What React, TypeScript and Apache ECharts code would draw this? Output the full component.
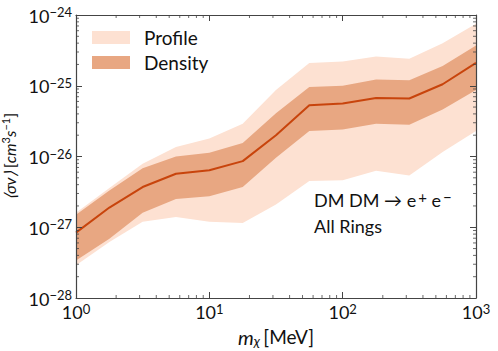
import React, { useEffect, useRef } from "react";
import * as echarts from "echarts";

// ---- data ----
const massMeV = [1, 1.78, 3.16, 5.62, 10, 17.8, 31.6, 56.2, 100, 178, 316, 562, 1000];
const median = [8.4e-28, 1.9e-27, 3.7e-27, 5.7e-27, 6.4e-27, 8.6e-27, 2.0e-26, 5.3e-26, 5.6e-26, 6.7e-26, 6.6e-26, 1.05e-25, 2.1e-25];
const densityHigh = [1.5e-27, 3.3e-27, 6.8e-27, 1.0e-26, 1.13e-26, 1.55e-26, 4.1e-26, 9.6e-26, 1.0e-25, 1.23e-25, 1.2e-25, 1.9e-25, 3.7e-25];
const densityLow = [3.4e-28, 6.9e-28, 1.6e-27, 2.5e-27, 2.75e-27, 3.7e-27, 9.6e-27, 2.3e-26, 2.4e-26, 2.9e-26, 2.8e-26, 4.6e-26, 8.7e-26];
const profileHigh = [1.6e-27, 3.6e-27, 7.9e-27, 1.36e-26, 1.8e-26, 2.9e-26, 8.7e-26, 2.1e-25, 2.2e-25, 2.6e-25, 2.4e-25, 4.0e-25, 7.5e-25];
const profileLow = [2.9e-28, 6.2e-28, 1.2e-27, 1.4e-27, 1.2e-27, 1.15e-27, 2.1e-27, 4.5e-27, 4.6e-27, 6.3e-27, 5.4e-27, 1.16e-26, 2.3e-26];

// axis range in decades (log10 of the plotted quantity)
const xMinExp = 0;
const xMaxExp = 3;
const yMinExp = -28;
const yMaxExp = -24;

const xMinorTicks = [2, 3, 4, 5, 6, 7, 8, 9, 20, 30, 40, 50, 60, 70, 80, 90, 200, 300, 400, 500, 600, 700, 800, 900];
const yMinorTicks = [
  2e-28, 3e-28, 4e-28, 5e-28, 6e-28, 7e-28, 8e-28, 9e-28,
  2e-27, 3e-27, 4e-27, 5e-27, 6e-27, 7e-27, 8e-27, 9e-27,
  2e-26, 3e-26, 4e-26, 5e-26, 6e-26, 7e-26, 8e-26, 9e-26,
  2e-25, 3e-25, 4e-25, 5e-25, 6e-25, 7e-25, 8e-25, 9e-25,
];

const seriesNames = ["Profile", "Density"];
const annotationLines = ["{n|DM DM \u2192 e}{s|+}{n| e}{s|\u2212}", "All Rings"];

const FONT = "Lato";
const TXT = "#111";
const AXIS_COLOR = "#444";
const PROFILE_COLOR = "#fde1d2";
const DENSITY_COLOR = "#e8a782";
const LINE_COLOR = "#c8440c";

const lg = (v: number) => Math.log10(v);

function expLabel(v: number) {
  const e = Math.round(v);
  const s = e < 0 ? "\u2212" + String(-e) : String(e);
  return `{b|10}{s|${s}}`;
}

const labelRich = {
  b: { fontFamily: FONT, fontSize: 18, color: TXT, lineHeight: 19, verticalAlign: "bottom" },
  s: { fontFamily: FONT, fontSize: 13, color: TXT, lineHeight: 12, verticalAlign: "top" },
};

function bandSeries(name: string, low: number[], high: number[], color: string, z: number) {
  return {
    name,
    type: "custom",
    coordinateSystem: "cartesian2d",
    xAxisIndex: 0,
    yAxisIndex: 0,
    z,
    silent: true,
    itemStyle: { color },
    data: massMeV.map((m, i) => [lg(m), lg(low[i]), lg(high[i])]),
    encode: { x: 0, y: [1, 2] },
    renderItem: (params: any, api: any) => {
      if (params.dataIndex !== 0) return null;
      const pts: number[][] = [];
      for (let i = 0; i < massMeV.length; i++) pts.push(api.coord([lg(massMeV[i]), lg(high[i])]));
      for (let i = massMeV.length - 1; i >= 0; i--) pts.push(api.coord([lg(massMeV[i]), lg(low[i])]));
      return { type: "polygon", shape: { points: pts }, style: { fill: color, stroke: "none" } };
    },
  };
}

export default function App() {
  const ref = useRef<HTMLDivElement>(null);
  useEffect(() => {
    if (!ref.current) return;
    const chart = echarts.init(ref.current, undefined, { renderer: "svg" });
    const axisCommon = {
      type: "value",
      z: 10,
      interval: 1,
      axisLine: { show: true, onZero: false, lineStyle: { color: AXIS_COLOR, width: 1.2 } },
      axisTick: { show: true, inside: true, length: 6, lineStyle: { color: AXIS_COLOR, width: 1 } },
      splitLine: { show: false },
    };
    const baseX = { ...axisCommon, min: xMinExp, max: xMaxExp };
    const baseY = { ...axisCommon, min: yMinExp, max: yMaxExp };
    const option = {
      animation: false,
      grid: { left: 76, right: 22, top: 15, bottom: 53, containLabel: false, outerBoundsMode: "none" },
      legend: {
        data: seriesNames,
        orient: "vertical",
        left: 92,
        top: 28,
        padding: 0,
        itemWidth: 38,
        itemHeight: 13,
        itemGap: 6,
        icon: "rect",
        selectedMode: false,
        textStyle: { fontFamily: FONT, fontSize: 19, color: TXT, padding: [0, 0, 0, 9] },
      },
      xAxis: [
        {
          ...baseX,
          position: "bottom",
          name: "{i|m}{sub|\u03C7} {n|[MeV]}",
          nameLocation: "middle",
          nameGap: 18,
          nameTextStyle: {
            rich: {
              i: { fontFamily: FONT, fontStyle: "italic", fontSize: 20, color: TXT, lineHeight: 20 },
              sub: { fontFamily: FONT, fontStyle: "italic", fontSize: 14, color: TXT, lineHeight: 20, padding: [8, 0, 0, 0] },
              n: { fontFamily: FONT, fontSize: 19, color: TXT, lineHeight: 20 },
            },
          },
          axisLabel: { show: true, margin: 4, formatter: expLabel, rich: labelRich },
        },
        {
          ...baseX,
          position: "top",
          axisLabel: { show: false },
        },
      ],
      yAxis: [
        {
          ...baseY,
          position: "left",
          name: "{i|\u27E8\u03C3v\u27E9} {n|[}{i|cm}{s|3}{i|s}{s|\u22121}{n|]}",
          nameLocation: "middle",
          nameRotate: 90,
          nameGap: 46,
          nameTextStyle: {
            rich: {
              i: { fontFamily: FONT, fontStyle: "italic", fontSize: 16, color: TXT, lineHeight: 20 },
              n: { fontFamily: FONT, fontSize: 16, color: TXT, lineHeight: 20 },
              s: { fontFamily: FONT, fontSize: 11, color: TXT, lineHeight: 12, verticalAlign: "top" },
            },
          },
          axisLabel: { show: true, margin: 4, formatter: expLabel, rich: labelRich },
        },
        {
          ...baseY,
          position: "right",
          axisLabel: { show: false },
        },
      ],
      graphic: [
        {
          type: "text",
          left: 314,
          top: 189,
          z: 20,
          style: {
            text: annotationLines[0],
            fill: TXT,
            font: `18px ${FONT}`,
            rich: {
              n: { fontFamily: FONT, fontSize: 18, fill: TXT, lineHeight: 20, verticalAlign: "bottom" },
              s: { fontFamily: FONT, fontSize: 15, fill: TXT, lineHeight: 13, verticalAlign: "top", padding: [0, 0, 0, 2] },
            },
          },
        },
        {
          type: "text",
          left: 314,
          top: 217,
          z: 20,
          style: { text: annotationLines[1], fill: TXT, font: `18px ${FONT}` },
        },
      ],
      series: [
        bandSeries(seriesNames[0], profileLow, profileHigh, PROFILE_COLOR, 2),
        bandSeries(seriesNames[1], densityLow, densityHigh, DENSITY_COLOR, 3),
        {
          name: "median",
          type: "line",
          z: 4,
          silent: true,
          symbol: "none",
          data: massMeV.map((m, i) => [lg(m), lg(median[i])]),
          lineStyle: { color: LINE_COLOR, width: 2 },
          itemStyle: { color: LINE_COLOR },
        },
        {
          name: "xminor",
          type: "custom",
          z: 11,
          silent: true,
          data: xMinorTicks.map((v) => [lg(v), yMinExp]),
          renderItem: (params: any, api: any) => {
            const v = api.value(0);
            const b = api.coord([v, yMinExp]);
            const t = api.coord([v, yMaxExp]);
            return {
              type: "group",
              children: [
                { type: "line", shape: { x1: b[0], y1: b[1], x2: b[0], y2: b[1] - 3 }, style: { stroke: AXIS_COLOR, lineWidth: 0.8 } },
                { type: "line", shape: { x1: t[0], y1: t[1], x2: t[0], y2: t[1] + 3 }, style: { stroke: AXIS_COLOR, lineWidth: 0.8 } },
              ],
            };
          },
        },
        {
          name: "yminor",
          type: "custom",
          z: 11,
          silent: true,
          data: yMinorTicks.map((v) => [xMinExp, lg(v)]),
          renderItem: (params: any, api: any) => {
            const v = api.value(1);
            const l = api.coord([xMinExp, v]);
            const r = api.coord([xMaxExp, v]);
            return {
              type: "group",
              children: [
                { type: "line", shape: { x1: l[0], y1: l[1], x2: l[0] + 3, y2: l[1] }, style: { stroke: AXIS_COLOR, lineWidth: 0.8 } },
                { type: "line", shape: { x1: r[0], y1: r[1], x2: r[0] - 3, y2: r[1] }, style: { stroke: AXIS_COLOR, lineWidth: 0.8 } },
              ],
            };
          },
        },
      ],
    };
    chart.setOption(option as any);
    return () => chart.dispose();
  }, []);
  return (
    <div
      ref={ref}
      style={{ position: "fixed", left: 0, top: 0, width: 498, height: 351, background: "#fff" }}
    />
  );
}
